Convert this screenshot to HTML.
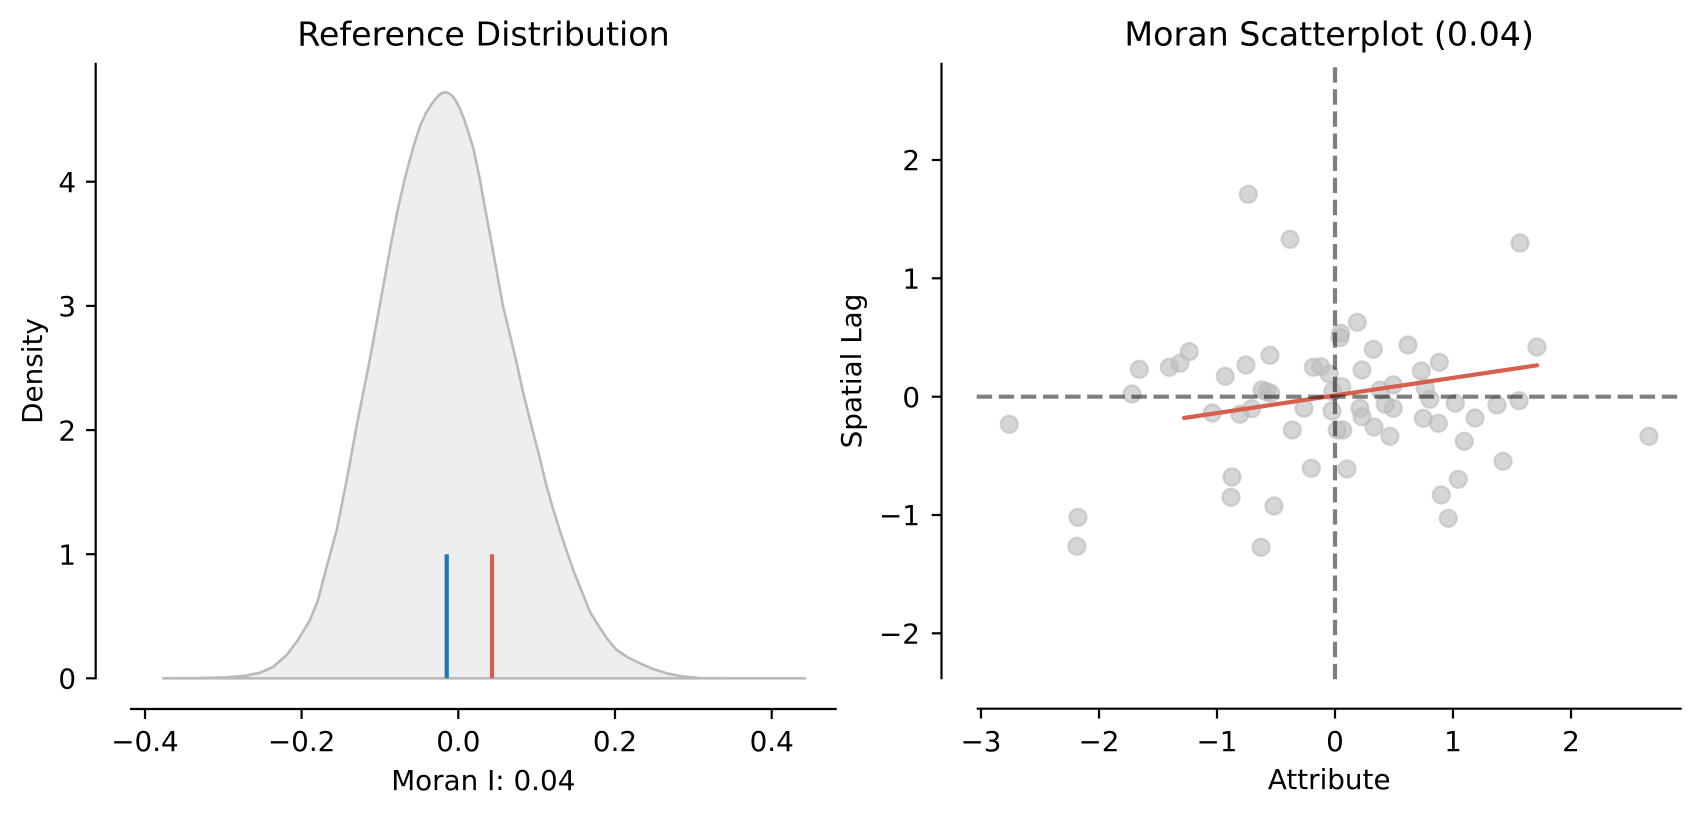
<!DOCTYPE html>
<html>
<head>
<meta charset="utf-8">
<style>
  html, body { margin: 0; padding: 0; background: #ffffff; }
  body { width: 1701px; height: 816px; overflow: hidden; }
  svg { display: block; }
  text { font-family: "DejaVu Sans", "Liberation Sans", sans-serif; fill: #000; }
  .tick { font-size: 27.8px; }
  .lab { font-size: 27.8px; }
  .title { font-size: 33.3px; }
</style>
</head>
<body>
<svg width="1701" height="816" viewBox="0 0 1701 816" xmlns="http://www.w3.org/2000/svg">
  <rect x="0" y="0" width="1701" height="816" fill="#ffffff"/>

  <!-- LEFT: Reference Distribution -->
  <text class="title" x="483.5" y="45.7" text-anchor="middle">Reference Distribution</text>

  <polygon fill="#bababa" fill-opacity="0.25" stroke="#bababa" stroke-width="2.6" stroke-linejoin="round"
    points="163.3,678.3 200,678.1 226.7,677.3 245,675.8 260,672.7 273,667 286.7,655 298,640 310,620 318,600 326.7,566.7 336.7,530 346.7,480 357,424 369,364 380,304 390.6,246 397,213 405,178 413.3,147 420,126 426,113 431,105 435,99.5 438.5,95.6 441.5,93.3 445,92.3 448.5,93 452,95.5 456,101 460,109 464,119 468,131 473.3,148 479,175 485,208 491,240 497,273 503,306 509,331 516,360 523,392 531,424 539.6,457.3 546,484 553.2,509.3 560,531 567,552 574,572 582,592 590,612 600,628 608,640 616.7,650 628,657.5 640,663.3 653,669 666.7,673.3 683,676.5 700,678 730,678.3 805,678.3"/>

  <line x1="446.7" y1="554.2" x2="446.7" y2="678.3" stroke="#1f77b4" stroke-width="4.2"/>
  <line x1="492" y1="554.2" x2="492" y2="678.3" stroke="#d6604d" stroke-width="4.2"/>

  <line x1="95.7" y1="62.7" x2="95.7" y2="679.3" stroke="#000" stroke-width="2.2"/>
  <g stroke="#000" stroke-width="2.2">
    <line x1="86" y1="678.3" x2="95.7" y2="678.3"/>
    <line x1="86" y1="554.2" x2="95.7" y2="554.2"/>
    <line x1="86" y1="430.1" x2="95.7" y2="430.1"/>
    <line x1="86" y1="305.9" x2="95.7" y2="305.9"/>
    <line x1="86" y1="181.7" x2="95.7" y2="181.7"/>
  </g>
  <g class="tick" text-anchor="end">
    <text x="76" y="688.5">0</text>
    <text x="76" y="564.4">1</text>
    <text x="76" y="440.3">2</text>
    <text x="76" y="316.1">3</text>
    <text x="76" y="191.9">4</text>
  </g>
  <text class="lab" transform="translate(42,371) rotate(-90)" text-anchor="middle">Density</text>

  <line x1="130" y1="709" x2="836.7" y2="709" stroke="#000" stroke-width="2.2"/>
  <g stroke="#000" stroke-width="2.2">
    <line x1="145" y1="709" x2="145" y2="719"/>
    <line x1="301.6" y1="709" x2="301.6" y2="719"/>
    <line x1="458.3" y1="709" x2="458.3" y2="719"/>
    <line x1="615" y1="709" x2="615" y2="719"/>
    <line x1="771.7" y1="709" x2="771.7" y2="719"/>
  </g>
  <g class="tick" text-anchor="middle">
    <text x="145" y="751">−0.4</text>
    <text x="301.6" y="751">−0.2</text>
    <text x="458.3" y="751">0.0</text>
    <text x="615" y="751">0.2</text>
    <text x="771.7" y="751">0.4</text>
  </g>
  <text class="lab" x="483.3" y="790" text-anchor="middle">Moran I: 0.04</text>

  <!-- RIGHT: Moran Scatterplot -->
  <text class="title" x="1329.2" y="45.7" text-anchor="middle">Moran Scatterplot (0.04)</text>

  <g fill="#bababa" fill-opacity="0.6" stroke="#bababa" stroke-opacity="0.6" stroke-width="2.4">
    <circle cx="1248.3" cy="194.3" r="8.5"/>
    <circle cx="1290" cy="239.3" r="8.5"/>
    <circle cx="1189.3" cy="351.7" r="8.5"/>
    <circle cx="1180" cy="363.3" r="8.5"/>
    <circle cx="1169.3" cy="367.3" r="8.5"/>
    <circle cx="1139.3" cy="369.3" r="8.5"/>
    <circle cx="1270" cy="355.3" r="8.5"/>
    <circle cx="1246" cy="365" r="8.5"/>
    <circle cx="1225.3" cy="376.3" r="8.5"/>
    <circle cx="1132" cy="394" r="8.5"/>
    <circle cx="1009.3" cy="424.3" r="8.5"/>
    <circle cx="1262" cy="390" r="8.5"/>
    <circle cx="1266.7" cy="391.7" r="8.5"/>
    <circle cx="1270.7" cy="393.3" r="8.5"/>
    <circle cx="1212.3" cy="413" r="8.5"/>
    <circle cx="1240" cy="414.3" r="8.5"/>
    <circle cx="1251.7" cy="408.7" r="8.5"/>
    <circle cx="1304" cy="408.3" r="8.5"/>
    <circle cx="1292.3" cy="430" r="8.5"/>
    <circle cx="1313.3" cy="367.3" r="8.5"/>
    <circle cx="1320.7" cy="366.7" r="8.5"/>
    <circle cx="1329.3" cy="374" r="8.5"/>
    <circle cx="1332.7" cy="391.7" r="8.5"/>
    <circle cx="1332" cy="411" r="8.5"/>
    <circle cx="1311.3" cy="468.3" r="8.5"/>
    <circle cx="1232" cy="477" r="8.5"/>
    <circle cx="1231" cy="497.3" r="8.5"/>
    <circle cx="1274" cy="506" r="8.5"/>
    <circle cx="1078" cy="517.3" r="8.5"/>
    <circle cx="1077" cy="546.3" r="8.5"/>
    <circle cx="1261" cy="547.3" r="8.5"/>
    <circle cx="1520" cy="243" r="8.5"/>
    <circle cx="1357.3" cy="322.3" r="8.5"/>
    <circle cx="1340.7" cy="333.3" r="8.5"/>
    <circle cx="1340" cy="337.7" r="8.5"/>
    <circle cx="1373.3" cy="349.3" r="8.5"/>
    <circle cx="1408" cy="345" r="8.5"/>
    <circle cx="1537" cy="347" r="8.5"/>
    <circle cx="1439.3" cy="362.3" r="8.5"/>
    <circle cx="1421.3" cy="371" r="8.5"/>
    <circle cx="1362" cy="370" r="8.5"/>
    <circle cx="1341.7" cy="386.7" r="8.5"/>
    <circle cx="1380" cy="390" r="8.5"/>
    <circle cx="1393.3" cy="385" r="8.5"/>
    <circle cx="1425.3" cy="388.3" r="8.5"/>
    <circle cx="1430" cy="399.3" r="8.5"/>
    <circle cx="1385.3" cy="404.3" r="8.5"/>
    <circle cx="1393.3" cy="408.3" r="8.5"/>
    <circle cx="1360" cy="408.3" r="8.5"/>
    <circle cx="1362" cy="416.7" r="8.5"/>
    <circle cx="1455.3" cy="403.3" r="8.5"/>
    <circle cx="1497" cy="405" r="8.5"/>
    <circle cx="1519" cy="400.7" r="8.5"/>
    <circle cx="1475" cy="418" r="8.5"/>
    <circle cx="1423.3" cy="418.3" r="8.5"/>
    <circle cx="1438.3" cy="423.3" r="8.5"/>
    <circle cx="1374" cy="427" r="8.5"/>
    <circle cx="1390" cy="436.3" r="8.5"/>
    <circle cx="1337.3" cy="430" r="8.5"/>
    <circle cx="1342.7" cy="430" r="8.5"/>
    <circle cx="1464.3" cy="441.3" r="8.5"/>
    <circle cx="1649" cy="436.3" r="8.5"/>
    <circle cx="1503" cy="461.3" r="8.5"/>
    <circle cx="1347" cy="469" r="8.5"/>
    <circle cx="1458.3" cy="479.3" r="8.5"/>
    <circle cx="1441.3" cy="495" r="8.5"/>
    <circle cx="1448.3" cy="518.3" r="8.5"/>
  </g>

  <line x1="1184" y1="418" x2="1537" y2="365.3" stroke="#d6604d" stroke-width="4.2" stroke-linecap="round"/>

  <line x1="1335" y1="679.3" x2="1335" y2="62.7" stroke="#000" stroke-opacity="0.5" stroke-width="4.2" stroke-dasharray="15.4 6.7"/>
  <line x1="976.7" y1="396.7" x2="1681.7" y2="396.7" stroke="#000" stroke-opacity="0.5" stroke-width="4.2" stroke-dasharray="15.4 6.7"/>

  <line x1="941.5" y1="62.7" x2="941.5" y2="679.3" stroke="#000" stroke-width="2.2"/>
  <g stroke="#000" stroke-width="2.2">
    <line x1="931.8" y1="160" x2="941.5" y2="160"/>
    <line x1="931.8" y1="278.3" x2="941.5" y2="278.3"/>
    <line x1="931.8" y1="396.7" x2="941.5" y2="396.7"/>
    <line x1="931.8" y1="515" x2="941.5" y2="515"/>
    <line x1="931.8" y1="633.3" x2="941.5" y2="633.3"/>
  </g>
  <g class="tick" text-anchor="end">
    <text x="920" y="170.2">2</text>
    <text x="920" y="288.5">1</text>
    <text x="920" y="406.9">0</text>
    <text x="920" y="525.2">−1</text>
    <text x="920" y="643.5">−2</text>
  </g>
  <text class="lab" transform="translate(861,371) rotate(-90)" text-anchor="middle">Spatial Lag</text>

  <line x1="976.7" y1="708.7" x2="1681.7" y2="708.7" stroke="#000" stroke-width="2.2"/>
  <g stroke="#000" stroke-width="2.2">
    <line x1="981" y1="708.7" x2="981" y2="718.5"/>
    <line x1="1099" y1="708.7" x2="1099" y2="718.5"/>
    <line x1="1217" y1="708.7" x2="1217" y2="718.5"/>
    <line x1="1335" y1="708.7" x2="1335" y2="718.5"/>
    <line x1="1453" y1="708.7" x2="1453" y2="718.5"/>
    <line x1="1571" y1="708.7" x2="1571" y2="718.5"/>
  </g>
  <g class="tick" text-anchor="middle">
    <text x="981" y="751">−3</text>
    <text x="1099" y="751">−2</text>
    <text x="1217" y="751">−1</text>
    <text x="1335" y="751">0</text>
    <text x="1453" y="751">1</text>
    <text x="1571" y="751">2</text>
  </g>
  <text class="lab" x="1329.2" y="789" text-anchor="middle">Attribute</text>
</svg>
</body>
</html>
